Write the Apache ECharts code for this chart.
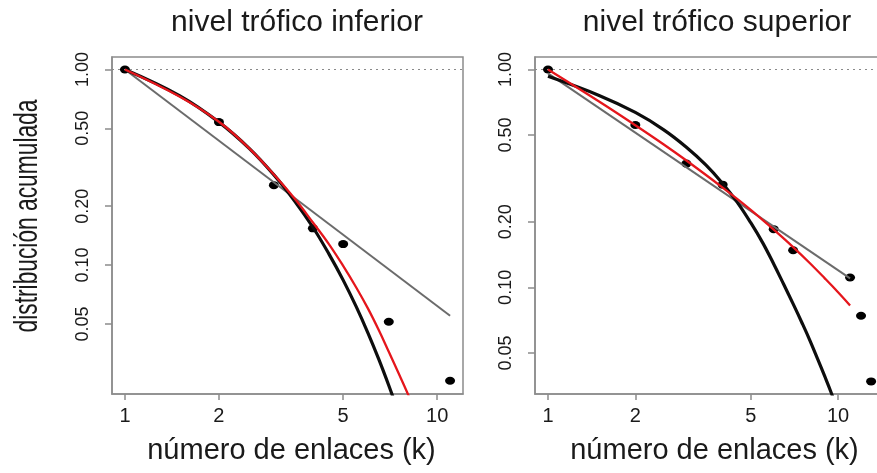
<!DOCTYPE html>
<html><head><meta charset="utf-8">
<script src="https://cdn.jsdelivr.net/npm/echarts@6/dist/echarts.min.js"></script>
<style>html,body{margin:0;padding:0;background:#fff}#c{width:877px;height:473px}</style>
</head><body><div id="c"></div>
<script>
// ---- text ----
const panelTitles = ['nivel trófico inferior', 'nivel trófico superior'];
const xAxisTitle = 'número de enlaces (k)';
const yAxisTitle = 'distribución acumulada';
// ---- tick labels ----
const xTicks = [1, 2, 5, 10];
const yTicks = [0.05, 0.1, 0.2, 0.5, 1];

// ---- panel 1: nivel trófico inferior ----
const infK = [1, 2, 3, 4, 5, 7, 11];
const infP = [1.0, 0.538, 0.256, 0.154, 0.128, 0.0513, 0.0256];
const infExpX = [1, 1.5, 2, 2.5, 3, 3.5, 4, 4.5, 5, 5.5, 6, 6.5, 7, 7.5];
const infExpY = [1.0, 0.733, 0.538, 0.395, 0.289, 0.212, 0.156, 0.114, 0.0837, 0.0614, 0.045, 0.033, 0.0242, 0.0178];
const infRedX = [1, 1.5, 2, 2.5, 3, 3.5, 4, 4.5, 5, 5.5, 6, 6.5, 7, 7.5, 8, 8.5];
const infRedY = [1.0, 0.725, 0.54, 0.395, 0.29, 0.218, 0.165, 0.128, 0.099, 0.077, 0.060, 0.0465, 0.036, 0.0283, 0.0225, 0.0178];
const infPowX = [1, 11];
const infPowY = [1.0, 0.055];

// ---- panel 2: nivel trófico superior ----
const supK = [1, 2, 3, 4, 6, 7, 11, 12, 13];
const supP = [1.0, 0.556, 0.370, 0.296, 0.185, 0.148, 0.111, 0.0741, 0.037];
const supExpX = [1, 1.5, 2, 2.5, 3, 3.5, 4, 4.5, 5, 5.5, 6, 6.5, 7, 7.5, 8, 8.5, 9, 9.5, 10];
const supExpY = [0.93, 0.76, 0.635, 0.53, 0.44, 0.365, 0.30, 0.245, 0.198, 0.16, 0.128, 0.103, 0.084, 0.069, 0.057, 0.047, 0.039, 0.0325, 0.027];
const supRedX = [1, 1.5, 2, 2.5, 3, 4, 5, 6, 7, 8, 9, 10, 11];
const supRedY = [1.0, 0.713, 0.555, 0.454, 0.382, 0.287, 0.227, 0.184, 0.153, 0.129, 0.110, 0.095, 0.0826];
const supPowX = [1, 11];
const supPowY = [0.96, 0.11];

const zip = (a, b) => a.map((v, i) => [v, b[i]]);

const FONT = 'Liberation Sans, Arial, sans-serif';
const BOX = '#8c8c8c';
const INK = '#1a1a1a';

function xAx(gi, min, max, shift) {
  return {
    type: 'log', gridIndex: gi, min: min, max: max, logBase: 10,
    name: xAxisTitle, nameLocation: 'middle', nameGap: 42,
    nameTextStyle: {fontFamily: FONT, fontSize: 29, color: INK, padding: [0, 0, 0, shift]},
    axisLine: {show: true, lineStyle: {color: BOX, width: 1.5}},
    axisTick: {show: true, length: 6, inside: false, customValues: xTicks, lineStyle: {color: BOX, width: 1.5}},
    axisLabel: {customValues: xTicks, margin: 12, fontFamily: FONT, fontSize: 20, color: INK,
      formatter: v => String(Math.round(v))},
    minorTick: {show: false}, splitLine: {show: false}, minorSplitLine: {show: false}
  };
}
function yAx(gi, min, max) {
  return {
    type: 'log', gridIndex: gi, min: min, max: max, logBase: 10,
    axisLine: {show: true, lineStyle: {color: BOX, width: 1.5}},
    axisTick: {show: true, length: 7, customValues: yTicks, lineStyle: {color: BOX, width: 1.5}},
    axisLabel: {customValues: yTicks, rotate: 90, margin: 20, fontFamily: FONT, fontSize: 18, color: INK,
      formatter: v => Number(v).toFixed(2)},
    splitLine: {show: false}, minorSplitLine: {show: false}
  };
}

function panelSeries(i, k, p, ex, ey, rx, ry, px, py) {
  return [
    {type: 'scatter', xAxisIndex: i, yAxisIndex: i, data: zip(k, p), symbol: 'circle', symbolSize: [10, 8],
     itemStyle: {color: '#000000', opacity: 1}, z: 2,
     markLine: {silent: true, symbol: 'none', label: {show: false},
       lineStyle: {color: '#8a8a8a', type: [2, 4], width: 1.2}, data: [{yAxis: 1}]}},
    {type: 'line', xAxisIndex: i, yAxisIndex: i, data: zip(px, py), showSymbol: false, symbol: 'none',
     lineStyle: {color: '#6b6b6b', width: 2}, z: 3},
    {type: 'line', xAxisIndex: i, yAxisIndex: i, data: zip(ex, ey), showSymbol: false, symbol: 'none', smooth: 0.4,
     lineStyle: {color: '#0d0d0d', width: 3.2}, z: 4},
    {type: 'line', xAxisIndex: i, yAxisIndex: i, data: zip(rx, ry), showSymbol: false, symbol: 'none', smooth: 0.4,
     lineStyle: {color: '#e5161c', width: 2.3}, z: 5}
  ];
}

const chart = echarts.init(document.getElementById('c'), null, {renderer: 'canvas'});
chart.setOption({
  animation: false,
  backgroundColor: '#ffffff',
  title: [
    {text: panelTitles[0], left: 297, top: 8, textAlign: 'center', padding: 0,
     textStyle: {fontFamily: FONT, fontSize: 30, fontWeight: 'normal', color: INK}},
    {text: panelTitles[1], left: 717, top: 8, textAlign: 'center', padding: 0,
     textStyle: {fontFamily: FONT, fontSize: 30, fontWeight: 'normal', color: INK}}
  ],
  graphic: [
    {type: 'text', x: 28, y: 216, rotation: Math.PI / 2, scaleX: 0.69,
     style: {text: yAxisTitle, align: 'center', verticalAlign: 'middle', fontFamily: FONT, fontSize: 33, fill: INK}}
  ],
  grid: [
    {left: 112, top: 57, width: 351, height: 337, outerBoundsMode: 'none', containLabel: false,
     show: true, borderColor: BOX, borderWidth: 1.5, backgroundColor: 'transparent'},
    {left: 535, top: 57, width: 349, height: 337, outerBoundsMode: 'none', containLabel: false,
     show: true, borderColor: BOX, borderWidth: 1.5, backgroundColor: 'transparent'}
  ],
  xAxis: [xAx(0, 0.909, 12.1, 8), xAx(1, 0.902, 14.4, 10)],
  yAxis: [yAx(0, 0.0219, 1.158), yAx(1, 0.0324, 1.141)],
  series: [].concat(
    panelSeries(0, infK, infP, infExpX, infExpY, infRedX, infRedY, infPowX, infPowY),
    panelSeries(1, supK, supP, supExpX, supExpY, supRedX, supRedY, supPowX, supPowY)
  )
});
</script></body></html>
